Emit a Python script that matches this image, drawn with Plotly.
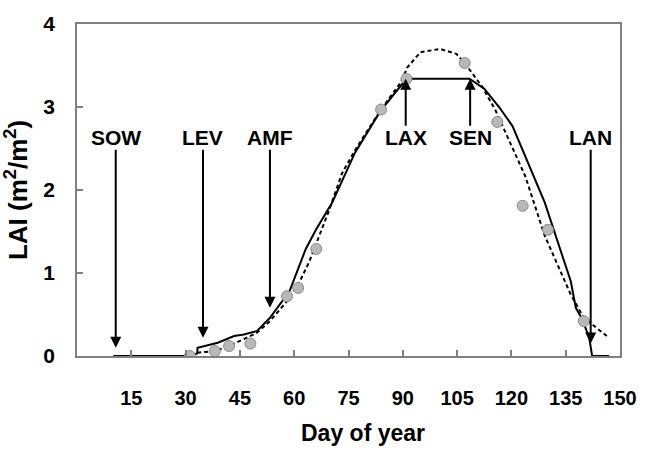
import plotly.graph_objects as go

# Observed LAI (grey circles)
obs_day = [31.2, 38.1, 42.0, 47.9, 58.0, 61.1, 66.1, 84.0, 91.0, 107.1, 116.1, 123.1, 130.1, 140.0]
obs_lai = [0.00, 0.06, 0.12, 0.15, 0.72, 0.82, 1.29, 2.97, 3.34, 3.53, 2.82, 1.81, 1.52, 0.42]

# Simulation 1 (solid line)
sim1_day = [10.0, 31.0, 33.2, 33.3, 38.9, 43.4, 46.1, 49.7, 53.3, 58.7, 63.2, 66.0, 70.5, 76.8,
            83.8, 91.0, 108.4, 112.5, 116.6, 120.3, 129.2, 136.4, 137.8, 139.5, 141.5, 142.3, 147.0]
sim1_lai = [0.00, 0.00, 0.03, 0.10, 0.16, 0.24, 0.26, 0.30, 0.46, 0.78, 1.29, 1.52, 1.85, 2.45,
            2.95, 3.34, 3.34, 3.22, 3.00, 2.77, 1.85, 0.90, 0.58, 0.45, 0.22, 0.00, 0.00]

# Simulation 2 (dashed line)
sim2_day = [33.2, 38.1, 42.0, 49.7, 53.3, 58.0, 61.1, 64.1, 69.6, 73.2, 76.8, 83.8, 89.5, 91.3,
            94.9, 100.3, 104.8, 107.1, 112.0, 115.6, 118.4, 123.8, 129.2, 136.4, 140.0, 146.4]
sim2_lai = [0.04, 0.06, 0.12, 0.28, 0.42, 0.66, 0.86, 1.13, 1.75, 2.20, 2.48, 2.96, 3.30, 3.48,
            3.66, 3.70, 3.64, 3.53, 3.24, 2.96, 2.69, 2.17, 1.45, 0.74, 0.46, 0.24]

# Phenological stages
stage_names = ["SOW", "LEV", "AMF", "LAX", "SEN", "LAN"]
stage_days = [10.7, 34.8, 53.3, 90.8, 108.6, 141.9]
stage_tip_lai = [0.10, 0.22, 0.58, 3.34, 3.34, 0.15]
stage_label_lai = 2.63

x_ticks = [15, 30, 45, 60, 75, 90, 105, 120, 135, 150]
y_ticks = [0, 1, 2, 3, 4]

SANS = "Liberation Sans, Arial"

fig = go.Figure()
fig.add_trace(go.Scatter(x=sim2_day, y=sim2_lai, mode="lines",
                         line=dict(color="black", width=2, dash="4px,3px"), showlegend=False))
fig.add_trace(go.Scatter(x=sim1_day, y=sim1_lai, mode="lines",
                         line=dict(color="black", width=2), showlegend=False))
fig.add_trace(go.Scatter(x=obs_day, y=obs_lai, mode="markers",
                         marker=dict(size=11, color="#b8b8b8", line=dict(color="#8c8c8c", width=1)),
                         showlegend=False))

for name, d, tip in zip(stage_names, stage_days, stage_tip_lai):
    fig.add_annotation(x=d, y=tip, ax=d, ay=stage_label_lai, xref="x", yref="y",
                       axref="x", ayref="y", text=name, showarrow=True,
                       arrowhead=2, arrowsize=1.1, arrowwidth=2, arrowcolor="black",
                       font=dict(family=SANS, size=21, color="black", weight="bold"), borderpad=0)

# x-axis title (placed to match the reference, slightly right of centre)
fig.add_annotation(text="Day of year", xref="paper", yref="paper", x=0.527, y=-0.232,
                   xanchor="center", yanchor="middle", showarrow=False,
                   font=dict(family=SANS, size=23, color="black", weight="bold"))

fig.update_layout(
    width=649, height=451,
    margin=dict(l=77, r=18, t=20, b=95),
    paper_bgcolor="white", plot_bgcolor="white",
    font=dict(family=SANS, color="black"),
)
fig.update_xaxes(range=[0, 150], tickvals=x_ticks,
                 ticks="inside", ticklen=6, tickcolor="#808080", tickwidth=1.5,
                 showline=True, linecolor="#808080", linewidth=1.5, mirror=True,
                 showgrid=False, zeroline=False,
                 tickfont=dict(family=SANS, size=20, color="black", weight="bold"), ticklabelstandoff=23)
fig.update_yaxes(range=[0, 4], tickvals=y_ticks, ticks="inside", ticklen=6,
                 tickcolor="#808080", tickwidth=1.5,
                 showline=True, linecolor="#808080", linewidth=1.5, mirror=True,
                 showgrid=False, zeroline=False,
                 tickfont=dict(family=SANS, size=21, color="black", weight="bold"), ticklabelstandoff=16,
                 title=dict(text="LAI (m<sup>2</sup>/m<sup>2</sup>)",
                            font=dict(family=SANS, size=26, weight="bold"), standoff=8))

fig.write_html("out.html")
